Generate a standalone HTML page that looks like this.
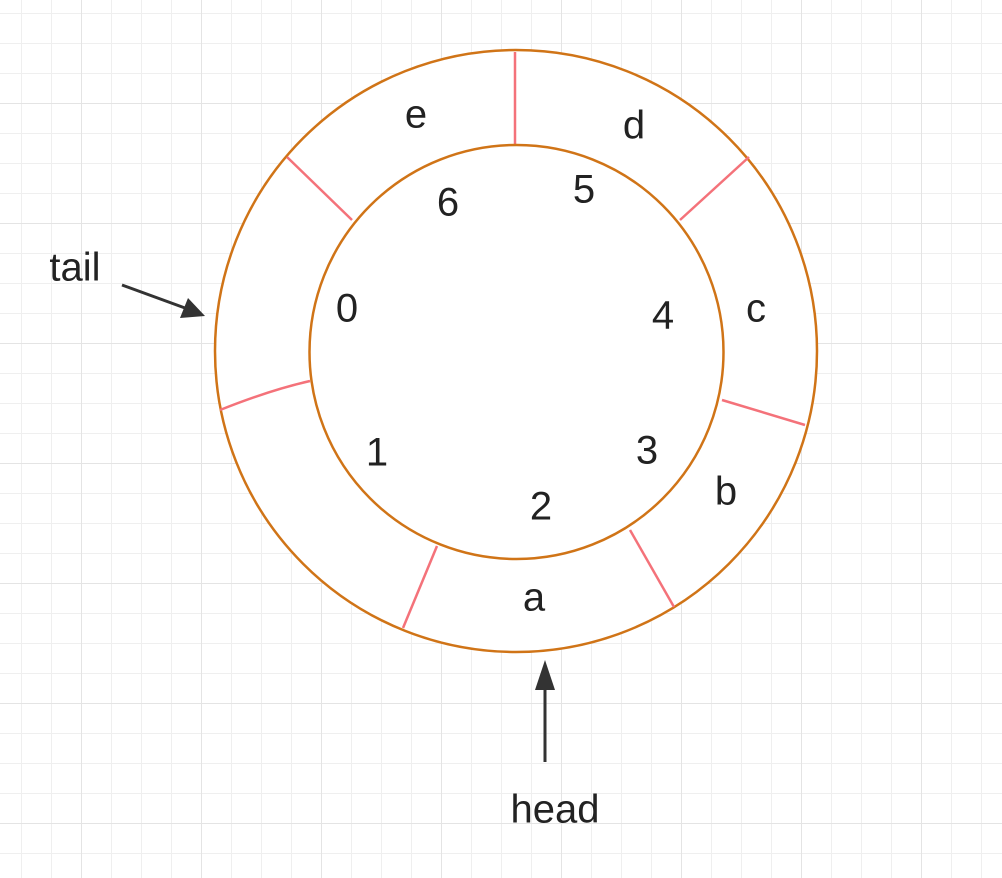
<!DOCTYPE html>
<html><head><meta charset="utf-8"><style>
html,body{margin:0;padding:0;background:#fff;}
svg{display:block;}
text{font-family:"Liberation Sans",Arial,sans-serif;font-size:40px;fill:#222;text-anchor:middle;dominant-baseline:middle;}
</style></head><body>
<svg width="1002" height="878" viewBox="0 0 1002 878">
<defs>
<pattern id="minor" x="21" y="13" width="30" height="30" patternUnits="userSpaceOnUse">
<path d="M0 0V30M0 0H30" stroke="#efefef" stroke-width="2" fill="none"/>
</pattern>
<pattern id="major" x="81" y="103" width="120" height="120" patternUnits="userSpaceOnUse">
<path d="M0 0V120M0 0H120" stroke="#e4e4e4" stroke-width="2" fill="none"/>
</pattern>
</defs>
<rect width="1002" height="878" fill="url(#minor)"/>
<rect width="1002" height="878" fill="url(#major)"/>
<g>
<circle cx="516" cy="351" r="301" fill="#fff" stroke="#d07417" stroke-width="2.5"/>
</g>
<g stroke="#f4727a" stroke-width="2.5" fill="none">
<line x1="515" y1="52" x2="515" y2="145"/>
<line x1="287" y1="157" x2="352" y2="220"/>
<line x1="749" y1="157" x2="680" y2="220"/>
<line x1="722" y1="400" x2="805" y2="425"/>
<line x1="630" y1="530" x2="674" y2="607"/>
<line x1="437" y1="546" x2="403" y2="628"/>
<path d="M220 410 Q270 390 310 381"/>
</g>
<circle cx="516.5" cy="352" r="207" fill="#fff" stroke="#d07417" stroke-width="2.5"/>
<g>
<text x="416" y="117">e</text><text x="634" y="128">d</text><text x="756" y="311">c</text>
<text x="726" y="494">b</text><text x="534" y="600">a</text>
</g>
<g>
<text x="448" y="205">6</text><text x="584" y="192">5</text><text x="347" y="311">0</text>
<text x="663" y="318">4</text><text x="377" y="455">1</text><text x="647" y="453">3</text><text x="541" y="509">2</text>
</g>
<text x="75" y="270">tail</text>
<g>
<line x1="122" y1="285" x2="185" y2="308" stroke="#333" stroke-width="3"/>
<polygon points="205,316 180,318 188,298" fill="#333"/>
</g>
<text x="555" y="812">head</text>
<g>
<line x1="545" y1="762" x2="545" y2="680" stroke="#333" stroke-width="3"/>
<polygon points="545,660 535,690 555,690" fill="#333"/>
</g>
</svg>
</body></html>
